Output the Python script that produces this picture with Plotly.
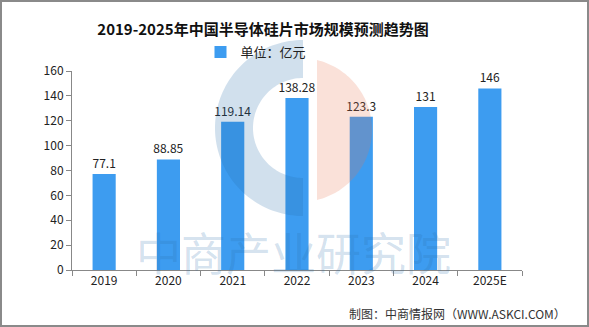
import numpy as np
import plotly.graph_objects as go

# Market size of semiconductor silicon wafers in China (unit: 100 million CNY)
years = ["2019", "2020", "2021", "2022", "2023", "2024", "2025E"]
values = [77.1, 88.85, 119.14, 138.28, 123.3, 131, 146]
value_labels = ["77.1", "88.85", "119.14", "138.28", "123.3", "131", "146"]
y_ticks = [0, 20, 40, 60, 80, 100, 120, 140, 160]

W, H = 589, 327
L, R, T, B = 72, 522, 71, 270  # plot area in pixels

FONT = "Noto Sans CJK SC, DejaVu Sans, sans-serif"
BAR = "#3d9cf0"
WM_BLUE = "rgba(40,110,170,0.21)"
WM_SALMON = "rgba(232,120,80,0.22)"


def px(x):
    return (x - L) / (R - L)


def py(y):
    return (B - y) / (B - T)


def to_path(pts):
    return "M " + " L ".join(f"{px(x):.4f},{py(y):.4f}" for x, y in pts) + " Z"


def half_ring(cx, cy, r_out, r_in, a0, a1, n=80):
    """Annular sector between angles a0..a1 (degrees, y up)."""
    a = np.radians(np.linspace(a0, a1, n))
    outer = [(cx + r_out * np.cos(t), cy - r_out * np.sin(t)) for t in a]
    inner = [(cx + r_in * np.cos(t), cy - r_in * np.sin(t)) for t in a[::-1]]
    return to_path(outer + inner)


def disc_segment(cx, cy, r, x_cut, n=80):
    """Part of a disc lying right of the vertical line x = x_cut."""
    th = np.degrees(np.arccos((x_cut - cx) / r))
    a = np.radians(np.linspace(th, -th, n))
    pts = [(cx + r * np.cos(t), cy - r * np.sin(t)) for t in a]
    return to_path(pts)


fig = go.Figure()
fig.add_trace(go.Bar(
    x=years, y=values, name="单位：亿元",
    marker=dict(color=BAR, line=dict(width=0)),
    text=value_labels, textposition="outside", cliponaxis=False,
    constraintext="none",
    textfont=dict(size=12, color="#222222", family=FONT),
    width=0.36,
))

shapes = [
    # faint brand logo laid over the plot
    dict(type="path", xref="paper", yref="paper", layer="above",
         path=half_ring(303, 128, 88, 50, 90, 270),
         fillcolor=WM_BLUE, line=dict(width=0)),
    dict(type="path", xref="paper", yref="paper", layer="above",
         path=disc_segment(300, 130, 72, 317),
         fillcolor=WM_SALMON, line=dict(width=0)),
    # outer frame
    dict(type="rect", xref="paper", yref="paper",
         x0=px(1), x1=px(W - 1), y0=py(H - 1), y1=py(1),
         line=dict(color="#8a8a8a", width=2), fillcolor="rgba(0,0,0,0)"),
]

annotations = [
    dict(text="中商产业研究院", xref="paper", yref="paper",
         x=px(293), y=py(251), xanchor="center", yanchor="middle",
         showarrow=False,
         font=dict(size=45, color=WM_BLUE, family=FONT)),
    dict(text="制图：中商情报网（WWW.ASKCI.COM）", xref="paper", yref="paper",
         x=px(568), y=py(313), xanchor="right", yanchor="middle",
         showarrow=False, font=dict(size=12, color="#333333", family=FONT)),
]

fig.update_layout(
    width=W, height=H,
    margin=dict(l=L, r=W - R, t=T, b=H - B, pad=0),
    paper_bgcolor="white", plot_bgcolor="white",
    title=dict(text="<b>2019-2025年中国半导体硅片市场规模预测趋势图</b>",
               x=263 / W, xanchor="center", y=1 - 30 / H, yanchor="middle",
               font=dict(size=15, color="#111111", family=FONT)),
    showlegend=True,
    legend=dict(orientation="h", x=px(256), y=py(52), xanchor="center",
                yanchor="middle", font=dict(size=13, color="#222222", family=FONT),
                itemwidth=30, bgcolor="rgba(0,0,0,0)"),
    xaxis=dict(type="category", showline=True, linecolor="#888888", linewidth=1,
               ticks="outside", tickson="boundaries", ticklen=5, tickcolor="#888888",
               tickfont=dict(size=12, color="#222222", family=FONT),
               showgrid=False, zeroline=False),
    yaxis=dict(range=[0, 160], tickvals=y_ticks, showline=True,
               linecolor="#888888", linewidth=1, ticks="outside", ticklen=5,
               tickcolor="#888888", tickfont=dict(size=12, color="#222222", family=FONT),
               showgrid=False, zeroline=False),
    shapes=shapes, annotations=annotations,
    bargap=0.64,
)

fig.write_html("out.html")
